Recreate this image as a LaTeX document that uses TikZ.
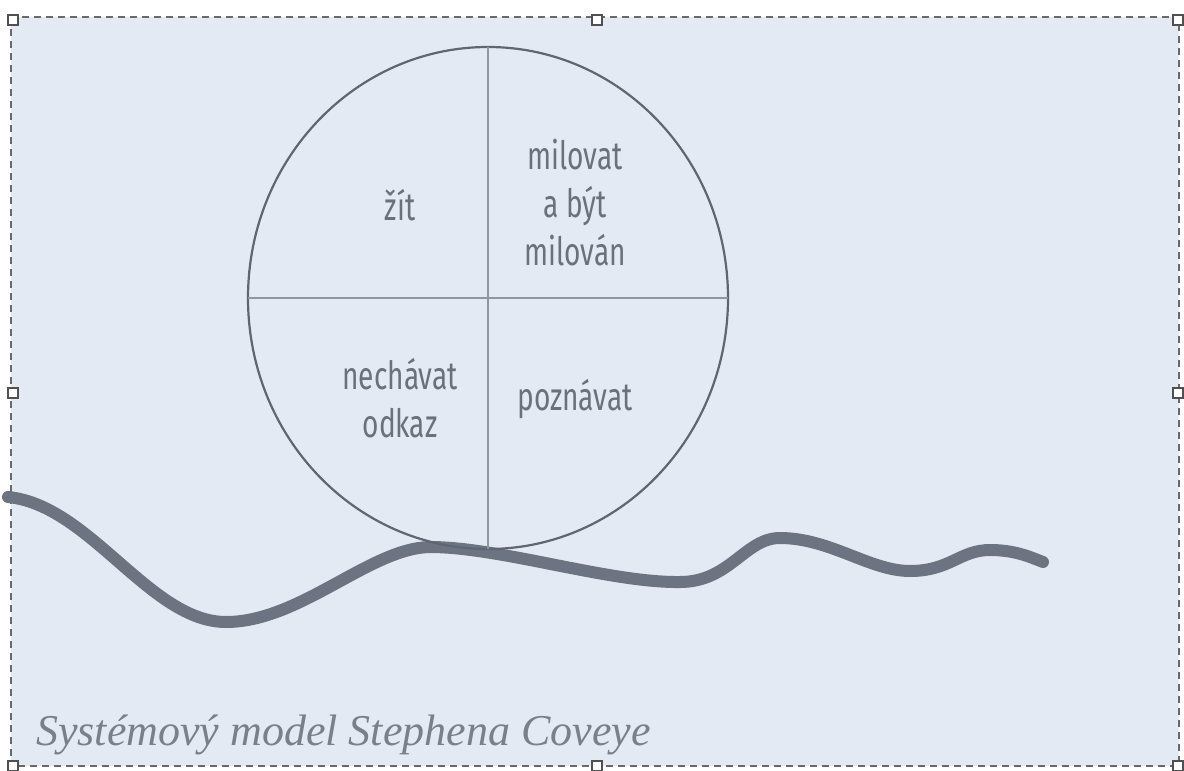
\documentclass[tikz,border=0pt]{standalone}
\usepackage{fontspec}
\usetikzlibrary{shapes.geometric}
\setmainfont{Liberation Serif}
\newfontfamily\labelfont[FakeStretch=0.72]{Fira Sans}
\definecolor{framebg}{HTML}{E4EAF3}
\definecolor{inkgray}{HTML}{6B7480}
\definecolor{rimgray}{HTML}{5E6672}
\definecolor{crossgray}{HTML}{8F97A2}
\definecolor{textgray}{HTML}{6A717C}
\definecolor{captiongray}{HTML}{7A808A}
\definecolor{handlegray}{HTML}{505050}

\begin{document}
\begin{tikzpicture}
[x=1pt,y=-1pt,
  handledecorate/.style={shape=rectangle,draw=handlegray,line width=1.8pt,fill=white,minimum size=10pt,inner sep=0pt},%
  labeldecorate/.style={text=textgray,font=\labelfont\fontsize{39}{48}\selectfont,anchor=base,inner sep=0pt},%
  wheeldecorate/.style={shape=ellipse,draw=rimgray,line width=2.2pt,minimum width=480pt,minimum height=502pt,inner sep=0pt,outer sep=0pt},%
  crossdecorate/.style={-,draw=crossgray,line width=1.3pt},%
  wavedecorate/.style={draw=inkgray,line width=12pt,line cap=round,line join=round}]
\useasboundingbox (0,0) rectangle (1184,771);
\fill[white] (0,0) rectangle (1184,771);
%% frame
\fill[framebg] (11,17) rectangle (1179,766);
\draw[handlegray!85,line width=1.8pt,dash pattern=on 7pt off 5pt] (11,17) rectangle (1179,766);
\foreach \nodename/\x/\y in {
  h1/13/20, h2/597/20, h3/1178/20, h4/13/393,
  h5/1178/393, h6/13/766, h7/597/766, h8/1178/766}
{
  \node (\nodename) at (\x,\y) [handledecorate] {};
}
%% road
\draw[wavedecorate] (8,497)
  .. controls (90,505) and (150,622) .. (226,622)
  .. controls (300,622) and (370,548) .. (430,547)
  .. controls (500,547) and (610,583) .. (680,582)
  .. controls (730,582) and (745,538) .. (780,538)
  .. controls (830,538) and (870,571) .. (910,571)
  .. controls (950,571) and (960,550) .. (990,550)
  .. controls (1015,550) and (1030,557) .. (1043,562);
%% wheel
\node (wheel) at (488,298) [wheeldecorate] {};
\draw[crossdecorate] (wheel.north) -- (wheel.south);
\draw[crossdecorate] (wheel.west) -- (wheel.east);
%% quadrant labels
\foreach \nodename/\x/\y/\word in {
  zit/400/220/žít, love1/575/169/milovat, love2/575/217/a být,
  love3/575/265/milován, leave1/400/389/nechávat, leave2/400/437/odkaz,
  learn/575/410/poznávat}
{
  \node (\nodename) at (\x,\y) [labeldecorate] {\word};
}
%% caption
\node (caption) at (36,745) [anchor=base west,inner sep=0pt,text=captiongray,
  font=\itshape\fontsize{44}{50}\selectfont] {Systémový model Stephena Coveye};
\end{tikzpicture}
\end{document}
